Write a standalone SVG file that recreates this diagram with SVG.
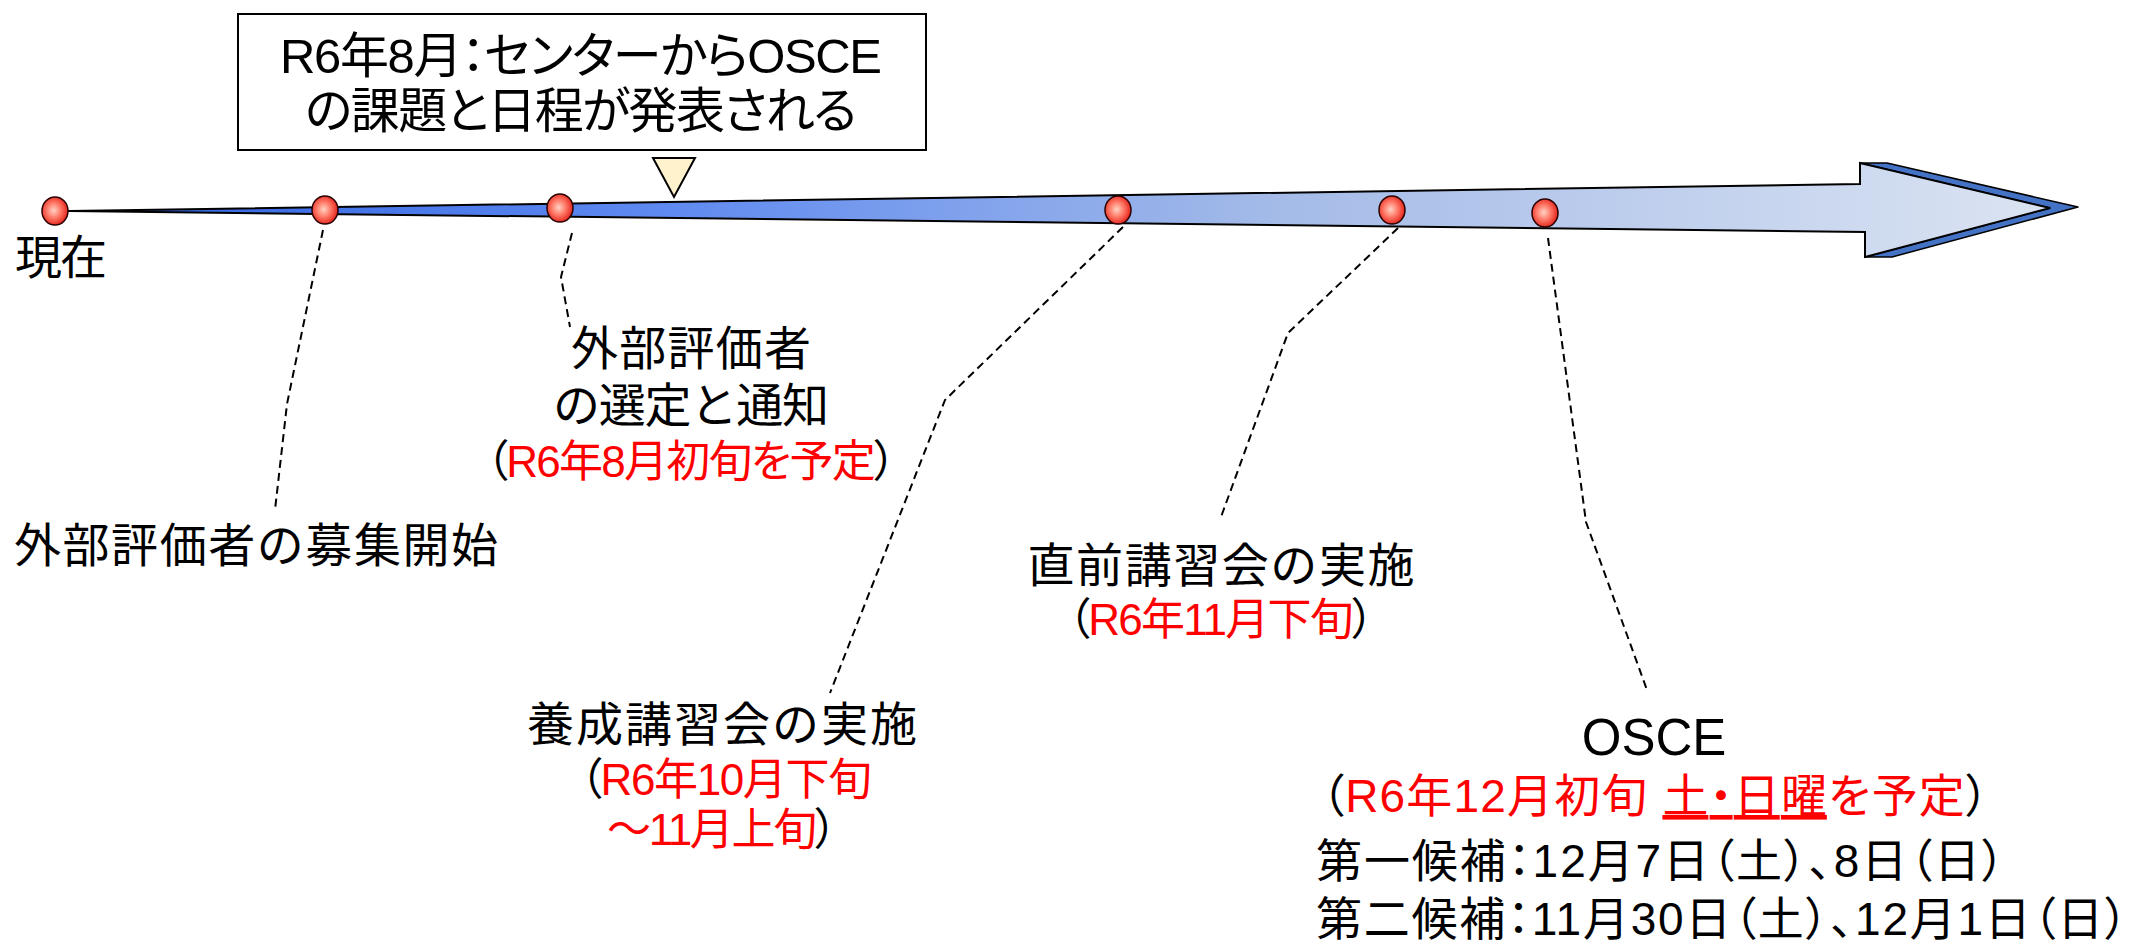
<svg xmlns="http://www.w3.org/2000/svg" width="2132" height="944" viewBox="0 0 2132 944">
<defs>
  <linearGradient id="shaft" gradientUnits="userSpaceOnUse" x1="70" y1="0" x2="2078" y2="0">
    <stop offset="0" stop-color="#2F62E0"/>
    <stop offset="0.3" stop-color="#5F8AF0"/>
    <stop offset="0.6" stop-color="#A4BBE8"/>
    <stop offset="1" stop-color="#DDE5F2"/>
  </linearGradient>
  <radialGradient id="dot" cx="0.45" cy="0.48" r="0.6">
    <stop offset="0" stop-color="#FFD2C4"/>
    <stop offset="0.45" stop-color="#FF7A68"/>
    <stop offset="1" stop-color="#E0140E"/>
  </radialGradient>
  <style>
    text{font-family:"Liberation Sans","Noto Sans CJK JP",sans-serif;fill:#000}
    .lbl{font-size:47px}
    .sub{font-size:44px;font-feature-settings:"palt"}
    .osc{font-size:46px;font-feature-settings:"palt"}
    .box{font-size:49px;font-feature-settings:"palt"}
    .r{fill:#FF0000}
    .dash{fill:none;stroke:#000;stroke-width:2;stroke-dasharray:8 5}
    .dot{fill:url(#dot);stroke:#2A0000;stroke-width:1.5}
  </style>
</defs>
<rect width="2132" height="944" fill="#FFFFFF"/>

<g id="timeline">
  <line x1="55" y1="211" x2="110" y2="211" stroke="#000" stroke-width="2"/>
  <polygon points="1860,163 1887,163 2078,207 1892,257 1865,257 2050,208" fill="#4472C4" stroke="#000" stroke-width="1.5" stroke-linejoin="round"/>
  <polygon points="70,211 1860,184 1860,163 2050,208 1865,257 1865,232" fill="url(#shaft)" stroke="#000" stroke-width="2" stroke-linejoin="miter"/>
</g>

<g id="connectors">
  <path class="dash" d="M323,230 L287,404 L275,510"/>
  <path class="dash" d="M572,233 L561,277 L570,327"/>
  <path class="dash" d="M1123,227 L945,400 L830,693"/>
  <path class="dash" d="M1398,228 L1288,333 L1221,517"/>
  <path class="dash" d="M1548,238 L1586,522 L1647,690"/>
</g>

<g id="callout">
  <rect x="238" y="14" width="688" height="136" fill="#FFFFFF" stroke="#000" stroke-width="2"/>
  <text class="box" x="581" y="73" text-anchor="middle" textLength="602" lengthAdjust="spacing">R6年8月：センターからOSCE</text>
  <text class="box" x="581" y="128" text-anchor="middle" textLength="552" lengthAdjust="spacing">の課題と日程が発表される</text>
  <polygon points="653,158 695,158 674,197" fill="#FFF2CC" stroke="#000" stroke-width="2" stroke-linejoin="miter"/>
</g>

<g id="node-now">
  <ellipse class="dot" cx="55" cy="211" rx="13" ry="14"/>
  <text class="lbl" x="15" y="274" textLength="92" lengthAdjust="spacing">現在</text>
</g>

<g id="node-recruit">
  <ellipse class="dot" cx="325" cy="210" rx="13" ry="14"/>
  <text class="lbl" x="14" y="562" textLength="484" lengthAdjust="spacing">外部評価者の募集開始</text>
</g>

<g id="node-select">
  <ellipse class="dot" cx="560" cy="208" rx="13" ry="14"/>
  <text class="lbl" x="691" y="365" text-anchor="middle" textLength="240" lengthAdjust="spacing">外部評価者</text>
  <text class="lbl" x="691" y="422" text-anchor="middle" textLength="276" lengthAdjust="spacing">の選定と通知</text>
  <text class="sub" x="691" y="477" text-anchor="middle" textLength="410" lengthAdjust="spacing">（<tspan class="r">R6年8月初旬を予定</tspan>）</text>
</g>

<g id="node-training">
  <ellipse class="dot" cx="1118" cy="210" rx="13" ry="14"/>
  <text class="lbl" x="722" y="741" text-anchor="middle" textLength="390" lengthAdjust="spacing">養成講習会の実施</text>
  <text class="sub" x="726" y="795" text-anchor="middle" textLength="292" lengthAdjust="spacing">（<tspan class="r">R6年10月下旬</tspan></text>
  <text class="sub" x="722" y="845" text-anchor="middle" textLength="230" lengthAdjust="spacing"><tspan class="r">～11月上旬</tspan>）</text>
</g>

<g id="node-final">
  <ellipse class="dot" cx="1392" cy="210" rx="13" ry="14"/>
  <text class="lbl" x="1221" y="582" text-anchor="middle" textLength="387" lengthAdjust="spacing">直前講習会の実施</text>
  <text class="sub" x="1221" y="635" text-anchor="middle" textLength="306" lengthAdjust="spacing">（<tspan class="r">R6年11月下旬</tspan>）</text>
</g>

<g id="node-osce">
  <ellipse class="dot" cx="1545" cy="213" rx="13" ry="14"/>
  <text x="1654" y="755" text-anchor="middle" font-size="51">OSCE</text>
  <text class="osc" x="1321" y="812" textLength="668" lengthAdjust="spacing">（<tspan class="r">R6年12月初旬 </tspan><tspan class="r" style="text-decoration:underline">土・日曜</tspan><tspan class="r">を予定</tspan>）</text>
  <text class="osc" x="1316" y="877" textLength="689" lengthAdjust="spacing">第一候補：12月7日（土）、8日（日）</text>
  <text class="osc" x="1316" y="935" textLength="812" lengthAdjust="spacing">第二候補：11月30日（土）、12月1日（日）</text>
</g>
</svg>
